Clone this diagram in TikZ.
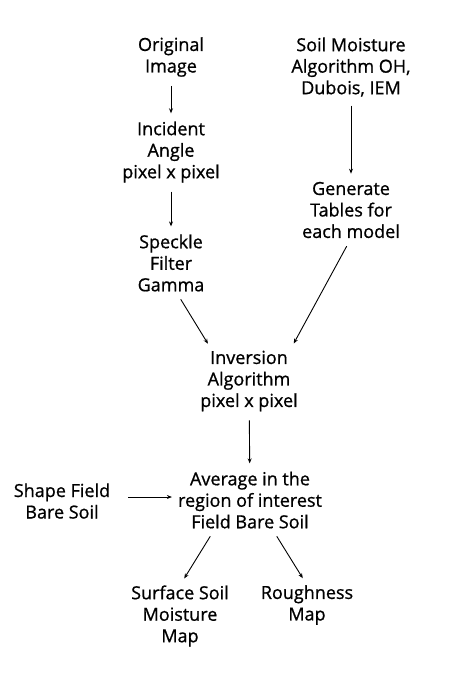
\documentclass[tikz,border=0pt]{standalone}
\usepackage{fontspec}
\setmainfont{Open Sans}[FakeBold=0.9]
\usetikzlibrary{arrows.meta}

\begin{document}
\begin{tikzpicture}[x=1pt, y=-1pt,
    box/.style={align=center, inner sep=0pt, font=\fontsize{18}{21.5}\selectfont},
    arr/.style={-{Stealth[length=5pt, width=4pt]}, line width=0.9pt, shorten <=9pt, shorten >=8pt}]
    \useasboundingbox (0, 0) rectangle (475, 674);

    \node[box] (orig) at (171, 57) {Original\\Image};
    \node[box] (angle) at (171, 152) {Incident\\Angle\\pixel x pixel};
    \node[box] (speckle) at (171, 263) {Speckle\\Filter\\Gamma};
    \node[box] (soil) at (351, 67) {Soil Moisture\\Algorithm OH,\\Dubois, IEM};
    \node[box] (tables) at (351, 210) {Generate\\Tables for\\each model};
    \node[box] (inv) at (249, 381) {Inversion\\Algorithm\\pixel x pixel};
    \node[box] (avg) at (250, 500) {Average in the\\region of interest\\Field Bare Soil};
    \node[box] (shape) at (62, 501) {Shape Field\\Bare Soil};
    \node[box] (ssm) at (180, 616) {Surface Soil\\Moisture\\Map};
    \node[box] (rough) at (307, 605) {Roughness\\Map};

    % 矢印を引く
    \draw[arr] (orig) -- (angle);
    \draw[arr] (angle) -- (speckle);
    \draw[arr] (soil) -- (tables);
    \draw[arr] ([xshift=5pt]speckle.south) -- ([xshift=12pt]inv.north west);
    \draw[arr] (tables.south) -- ([xshift=-8pt]inv.north east);
    \draw[arr] (inv) -- (avg);
    \draw[arr, shorten <=18pt, shorten >=6pt] (shape.east |- 0, 497) -- (avg.west |- 0, 497);
    \draw[arr] ([xshift=-35pt]avg.south) -- (ssm.north);
    \draw[arr] ([xshift=22pt]avg.south) -- (rough.north);
\end{tikzpicture}
\end{document}
